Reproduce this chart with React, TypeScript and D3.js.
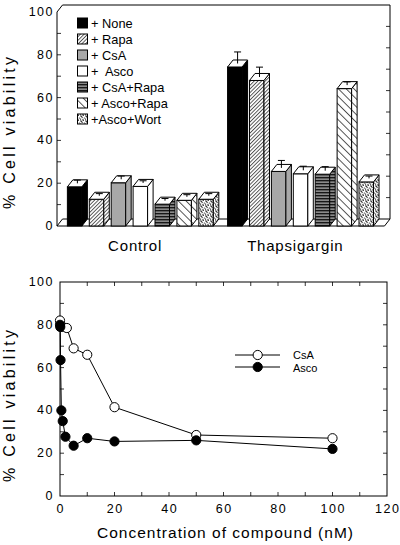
import React from "react";
import * as d3 from "d3";

const groups = ["Control", "Thapsigargin"];
const treatments = ["+ None", "+ Rapa", "+ CsA", "+  Asco", "+ CsA+Rapa", "+ Asco+Rapa", "+Asco+Wort"];
const controlValues = [18.3, 12.5, 20.2, 18.5, 10.2, 12, 12.5];
const controlErrors = [1.5, 1, 1.5, 1, 1, 1, 1];
const thapsValues = [74.3, 68, 25.5, 24.4, 24.2, 64.2, 20.6];
const thapsErrors = [5.4, 4.6, 3.5, 1.9, 1.9, 1.5, 1.1];
const yTickLabels = [0, 20, 40, 60, 80, 100];
const yMinorTicks = [10, 20, 30, 40, 50, 60, 70, 80, 90];

const csaConc = [0, 1, 2.5, 5, 10, 20, 50, 100];
const csaViability = [82, 79, 78.5, 69, 66, 41.5, 28.5, 27];
const ascoConc = [0, 0.1, 0.2, 0.5, 1, 2, 5, 10, 20, 50, 100];
const ascoViability = [80, 79, 63.5, 40, 35, 27.7, 23.5, 27, 25.5, 26, 22];
const xTickLabels = [0, 20, 40, 60, 80, 100, 120];
const xMinorTicks = [10, 20, 30, 40, 50, 60, 70, 80, 90, 100, 110];

const fills = ["#000", "url(#pRapa)", "#a8a8a8", "#fff", "url(#pCsaRapa)", "url(#pAscoRapa)", "url(#pWort)"];
const FONT = "'Liberation Sans', Arial, Helvetica, sans-serif";

export default function App() {
  const DX = 5.5, DY = 7;
  const y1 = d3.scaleLinear().domain([0, 100]).range([226, 12]);
  const x0 = d3.scaleBand<string>().domain(groups).range([63, 383.4]);
  const x1 = d3.scaleBand<string>().domain(treatments).range([0, x0.bandwidth()]).paddingInner(0.087).paddingOuter(0.2);
  const fw = x1.bandwidth() - DX;
  const left = 57, right = 384.5;

  const data = groups.map((g, gi) => treatments.map((t, ti) => ({
    g, t, ti,
    v: gi === 0 ? controlValues[ti] : thapsValues[ti],
    e: gi === 0 ? controlErrors[ti] : thapsErrors[ti],
  }))).flat();

  const x2 = d3.scaleLinear().domain([0, 120]).range([60, 387]);
  const y2 = d3.scaleLinear().domain([0, 100]).range([496, 282]);
  const line = d3.line<[number, number]>().x(d => x2(d[0])).y(d => y2(d[1]));
  const csa: [number, number][] = csaConc.map((c, i) => [c, csaViability[i]]);
  const asco: [number, number][] = ascoConc.map((c, i) => [c, ascoViability[i]]);

  const dots: [number, number][] = [[0.8, 0.9], [3.2, 0.5], [2.1, 2.6], [4.3, 3.0], [0.6, 4.1], [3.0, 4.5], [1.7, 1.3]];

  return (
    <svg width={400} height={545} style={{ position: "absolute", left: 0, top: 0, background: "#fff" }} fontFamily={FONT}>
      <defs>
        <pattern id="pRapa" patternUnits="userSpaceOnUse" width={2.6} height={6} patternTransform="rotate(45)">
          <rect width={2.6} height={6} fill="#fff" />
          <line x1={0.5} y1={0} x2={0.5} y2={6} stroke="#222" strokeWidth={0.8} />
        </pattern>
        <pattern id="pAscoRapa" patternUnits="userSpaceOnUse" width={5.5} height={6} patternTransform="rotate(-45)">
          <rect width={5.5} height={6} fill="#fff" />
          <line x1={0.5} y1={0} x2={0.5} y2={6} stroke="#222" strokeWidth={0.8} />
        </pattern>
        <pattern id="pCsaRapa" patternUnits="userSpaceOnUse" width={6} height={3}>
          <rect width={6} height={3} fill="#8a8a8a" />
          <line x1={0} y1={0.7} x2={6} y2={0.7} stroke="#111" strokeWidth={1.3} />
        </pattern>
        <pattern id="pWort" patternUnits="userSpaceOnUse" width={5} height={5}>
          <rect width={5} height={5} fill="#fff" />
          {dots.map((d, i) => <circle key={i} cx={d[0]} cy={d[1]} r={0.6} fill="#000" />)}
        </pattern>
      </defs>

      {/* ===== Top chart ===== */}
      <polygon points={`${left},${y1(0)} ${right},${y1(0)} ${right + DX},${y1(0) - DY} ${left + DX},${y1(0) - DY}`} fill="#fff" stroke="#000" strokeWidth={1} />
      <polyline points={`${left},${y1(100)} ${left + DX},${y1(100) - DY} ${right + DX},${y1(100) - DY} ${right + DX},${y1(0) - DY}`} fill="none" stroke="#000" strokeWidth={1} />
      <line x1={left} y1={y1(0)} x2={left} y2={y1(100)} stroke="#000" strokeWidth={1} />
      {yMinorTicks.map(v => (
        <g key={v}>
          <line x1={left} x2={left + 4} y1={y1(v)} y2={y1(v)} stroke="#000" strokeWidth={0.8} />
          <line x1={right + DX} x2={right + DX - 4} y1={y1(v) - DY} y2={y1(v) - DY} stroke="#000" strokeWidth={0.8} />
        </g>
      ))}
      {yTickLabels.map(v => (
        <text key={v} x={54} y={y1(v)} textAnchor="end" dominantBaseline="central" fontSize={12.5} letterSpacing={1.5}>{v}</text>
      ))}

      {data.map((d, i) => {
        const x = (x0(d.g) as number) + (x1(d.t) as number);
        const yt = y1(d.v), yb = y1(0);
        const f = fills[d.ti];
        const ex = x + fw / 2 + DX / 2;
        const ey0 = yt - DY / 2, ey1 = y1(d.v + d.e) - DY / 2;
        return (
          <g key={i} stroke="#000" strokeWidth={1}>
            <rect x={x} y={yt} width={fw} height={yb - yt} fill={f} />
            <polygon points={`${x + fw},${yb} ${x + fw + DX},${yb - DY} ${x + fw + DX},${yt - DY} ${x + fw},${yt}`} fill={f} />
            <polygon points={`${x},${yt} ${x + fw},${yt} ${x + fw + DX},${yt - DY} ${x + DX},${yt - DY}`} fill="#fff" />
            <line x1={ex} x2={ex} y1={ey0} y2={ey1} />
            <line x1={ex - 3.5} x2={ex + 3.5} y1={ey1} y2={ey1} />
          </g>
        );
      })}

      {groups.map(g => (
        <text key={g} x={(x0(g) as number) + x0.bandwidth() / 2 - 8} y={251} textAnchor="middle" fontSize={15} letterSpacing={0.8}>{g}</text>
      ))}
      <text transform="translate(15,133) rotate(-90)" textAnchor="middle" fontSize={16} textLength={152} lengthAdjust="spacing">% Cell viability</text>

      {treatments.map((t, i) => (
        <g key={t}>
          <rect x={77.5} y={18 + i * 16} width={10} height={10} fill={fills[i]} stroke="#000" strokeWidth={1} />
          <text x={91} y={23 + i * 16} dominantBaseline="central" fontSize={12.8} style={{ whiteSpace: "pre" }}>{t}</text>
        </g>
      ))}

      {/* ===== Bottom chart ===== */}
      <rect x={x2(0)} y={y2(100)} width={x2(120) - x2(0)} height={y2(0) - y2(100)} fill="none" stroke="#000" strokeWidth={1} />
      {xMinorTicks.map(v => (
        <g key={v}>
          <line x1={x2(v)} x2={x2(v)} y1={y2(0)} y2={y2(0) - 4} stroke="#000" strokeWidth={0.8} />
          <line x1={x2(v)} x2={x2(v)} y1={y2(100)} y2={y2(100) + 4} stroke="#000" strokeWidth={0.8} />
        </g>
      ))}
      {yMinorTicks.map(v => (
        <g key={v}>
          <line x1={x2(0)} x2={x2(0) + 4} y1={y2(v)} y2={y2(v)} stroke="#000" strokeWidth={0.8} />
          <line x1={x2(120)} x2={x2(120) - 4} y1={y2(v)} y2={y2(v)} stroke="#000" strokeWidth={0.8} />
        </g>
      ))}
      {yTickLabels.map(v => (
        <text key={v} x={54} y={y2(v)} textAnchor="end" dominantBaseline="central" fontSize={12.5} letterSpacing={1.5}>{v}</text>
      ))}
      {xTickLabels.map(v => (
        <text key={v} x={x2(v) + 0.75} y={513} textAnchor="middle" fontSize={12.5} letterSpacing={1.5}>{v}</text>
      ))}
      <text transform="translate(15,406) rotate(-90)" textAnchor="middle" fontSize={16} textLength={152} lengthAdjust="spacing">% Cell viability</text>
      <text x={225} y={538} textAnchor="middle" fontSize={15.5} textLength={256} lengthAdjust="spacing">Concentration of compound (nM)</text>

      <path d={line(csa) as string} fill="none" stroke="#000" strokeWidth={1} />
      {csa.map((d, i) => <circle key={i} cx={x2(d[0])} cy={y2(d[1])} r={4.6} fill="#fff" stroke="#000" strokeWidth={1} />)}
      <path d={line(asco) as string} fill="none" stroke="#000" strokeWidth={1} />
      {asco.map((d, i) => <circle key={i} cx={x2(d[0])} cy={y2(d[1])} r={4.6} fill="#000" stroke="#000" strokeWidth={1} />)}

      <line x1={235} x2={280} y1={355} y2={355} stroke="#000" strokeWidth={1} />
      <circle cx={257.7} cy={355} r={4.6} fill="#fff" stroke="#000" strokeWidth={1} />
      <text x={293} y={354.5} dominantBaseline="central" fontSize={11}>CsA</text>
      <line x1={235} x2={280} y1={367} y2={367} stroke="#000" strokeWidth={1} />
      <circle cx={257.7} cy={367} r={4.6} fill="#000" stroke="#000" strokeWidth={1} />
      <text x={293} y={367.5} dominantBaseline="central" fontSize={11}>Asco</text>
    </svg>
  );
}
